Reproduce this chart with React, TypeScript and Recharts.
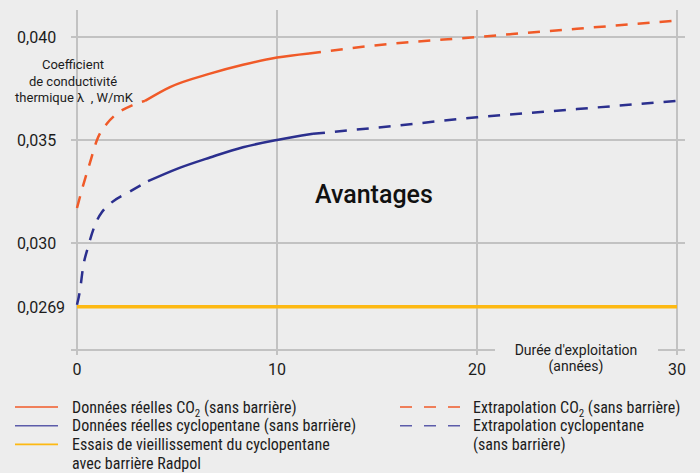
import React from 'react';
import { LineChart, Line, XAxis, YAxis, CartesianGrid, ReferenceLine } from 'recharts';

// ---- data ----
const years = [0, 10, 20, 30];
const yTicks = [0.0269, 0.03, 0.035, 0.04];
const yTickLabels = ['0,0269', '0,030', '0,035', '0,040'];
const gridValues = [0.03, 0.035, 0.04];

const co2EarlyT = [0, 0.25, 0.65, 1.0, 1.5, 1.9, 2.8, 3.4];
const co2EarlyV = [0.0317, 0.0326, 0.0339, 0.035, 0.0358, 0.0362, 0.0367, 0.0369];
const co2RealT = [3.4, 4.65, 6.65, 8.3, 10, 11.6];
const co2RealV = [0.0369, 0.03757, 0.03822, 0.03865, 0.039, 0.0392];
const co2LateT = [11.6, 15, 20, 25, 30];
const co2LateV = [0.0392, 0.0396, 0.04, 0.0404, 0.0408];

const cpEarlyT = [0, 0.15, 0.3, 0.55, 1.0, 1.25, 1.65, 2.65, 3.55];
const cpEarlyV = [0.027, 0.0277, 0.0288, 0.0298, 0.0311, 0.0315, 0.0319, 0.0325, 0.033];
const cpRealT = [3.55, 5.0, 6.65, 8.3, 10, 11.8];
const cpRealV = [0.033, 0.0336, 0.03415, 0.03465, 0.035, 0.0353];
const cpLateT = [11.8, 15, 20, 25, 30];
const cpLateV = [0.0353, 0.0356, 0.0361, 0.0365, 0.0369];

const radpolT = [0, 30];
const radpolV = [0.0269, 0.0269];

const legendLeft = [
  ['Données réelles CO₂ (sans barrière)'],
  ['Données réelles cyclopentane (sans barrière)'],
  ['Essais de vieillissement du cyclopentane', 'avec barrière Radpol'],
];
const legendRight = [
  ['Extrapolation CO₂ (sans barrière)'],
  ['Extrapolation cyclopentane', '(sans barrière)'],
];

// ---- config ----
const ORANGE = '#F05A28';
const BLUE = '#2B2F8E';
const YELLOW = '#FDB913';
const GRID = '#c2c2c2';
const BG = '#ededed';
const TEXT = '#1c1c1c';
const DASH = '12 10';

const X_DOMAIN: [number, number] = [-0.3, 30.4];
const Y_DOMAIN: [number, number] = [0.024563, 0.04131];
const AXIS_BASE = 0.024805;

const toPoints = (t: number[], v: number[]) => t.map((x, i) => ({ t: x, v: v[i] }));

const series = [
  { key: 'radpol', data: toPoints(radpolT, radpolV), color: YELLOW, dash: undefined, width: 3.5 },
  { key: 'co2Early', data: toPoints(co2EarlyT, co2EarlyV), color: ORANGE, dash: DASH, width: 2.5 },
  { key: 'co2Real', data: toPoints(co2RealT, co2RealV), color: ORANGE, dash: undefined, width: 2.5 },
  { key: 'co2Late', data: toPoints(co2LateT, co2LateV), color: ORANGE, dash: DASH, width: 2.5 },
  { key: 'cpEarly', data: toPoints(cpEarlyT, cpEarlyV), color: BLUE, dash: DASH, width: 2.5 },
  { key: 'cpReal', data: toPoints(cpRealT, cpRealV), color: BLUE, dash: undefined, width: 2.5 },
  { key: 'cpLate', data: toPoints(cpLateT, cpLateV), color: BLUE, dash: DASH, width: 2.5 },
];

const FONT = 'Roboto, "Noto Sans", sans-serif';
const NARROW = '"Liberation Sans Narrow", "Roboto Condensed", Roboto, sans-serif';

const YTick = (props: any) => {
  const { y, payload } = props;
  const idx = yTicks.indexOf(payload.value);
  return (
    <text x={17} y={y + 6} fontSize={16} fontFamily={FONT} fill={TEXT} textAnchor="start">
      {idx >= 0 ? yTickLabels[idx] : String(payload.value)}
    </text>
  );
};

const XTick = (props: any) => {
  const { x, y, payload } = props;
  return (
    <text x={x} y={y + 20} fontSize={16} fontFamily={FONT} fill={TEXT} textAnchor="middle">
      {payload.value}
    </text>
  );
};

const renderLabel = (s: string) => {
  const parts = s.split('₂');
  const out: any[] = [];
  parts.forEach((p, i) => {
    if (i > 0) {
      out.push(<tspan key={'s' + i} fontSize={11} dy={4}>2</tspan>);
      out.push(<tspan key={'p' + i} dy={-4}>{p}</tspan>);
    } else {
      out.push(<tspan key={'p' + i}>{p}</tspan>);
    }
  });
  return out;
};

const legendLeftColors = [ORANGE, '#5c5caa', YELLOW];
const legendRightColors = [ORANGE, '#5c5caa'];

export default function App() {
  const rowH = 18.7;
  const row0 = 407;
  let leftRows = 0;
  let rightRows = 0;
  return (
    <div style={{ position: 'fixed', left: 0, top: 0, width: 700, height: 473, background: BG, overflow: 'hidden' }}>
      <LineChart
        width={700}
        height={473}
        margin={{ top: 10, right: 15, bottom: 88, left: 0 }}
      >
        <CartesianGrid
          stroke={GRID}
          strokeWidth={2}
          verticalValues={years}
          horizontalValues={gridValues}
        />
        <XAxis
          type="number"
          dataKey="t"
          domain={X_DOMAIN}
          ticks={years}
          interval={0}
          allowDataOverflow
          axisLine={false}
          tickLine={false}
          tickSize={0}
          tickMargin={0}
          height={30}
          tick={<XTick />}
        />
        <YAxis
          type="number"
          dataKey="v"
          domain={Y_DOMAIN}
          ticks={yTicks}
          interval={0}
          allowDataOverflow
          axisLine={false}
          tickLine={false}
          width={71}
          tick={<YTick />}
        />
        <ReferenceLine
          segment={[{ x: X_DOMAIN[0], y: AXIS_BASE }, { x: 20.9, y: AXIS_BASE }]}
          stroke={GRID}
          strokeWidth={2}
          ifOverflow="visible"
        />
        <ReferenceLine
          segment={[{ x: 29.05, y: AXIS_BASE }, { x: X_DOMAIN[1], y: AXIS_BASE }]}
          stroke={GRID}
          strokeWidth={2}
          ifOverflow="visible"
        />
        {series.map((s) => (
          <Line
            key={s.key}
            data={s.data}
            dataKey="v"
            type="monotone"
            stroke={s.color}
            strokeWidth={s.width}
            strokeDasharray={s.dash}
            dot={false}
            activeDot={false}
            isAnimationActive={false}
          />
        ))}
      </LineChart>
      <svg
        width={700}
        height={473}
        style={{ position: 'absolute', left: 0, top: 0, pointerEvents: 'none' }}
      >
        <text fontSize={13} fontFamily={FONT} fill={TEXT} textAnchor="middle" style={{ whiteSpace: 'pre' }}>
          <tspan x={73} y={69}>Coefficient</tspan>
          <tspan x={73} y={86}>de conductivité</tspan>
          <tspan x={74} y={102}>{'thermique λ  , W/mK'}</tspan>
        </text>
        <text fontSize={14} fontFamily={FONT} fill={TEXT} textAnchor="middle">
          <tspan x={576} y={355}>Durée d'exploitation</tspan>
          <tspan x={576} y={371}>(années)</tspan>
        </text>
        <text x={315} y={203} fontSize={25} fontWeight={500} fontFamily={FONT} fill="#111">
          Avantages
        </text>
        {legendLeft.map((lines, i) => {
          const start = leftRows;
          leftRows += lines.length;
          const cy = row0 + start * rowH;
          return (
            <g key={'l' + i}>
              <line x1={15} x2={58} y1={cy} y2={cy} stroke={legendLeftColors[i]} strokeWidth={1.6} />
              {lines.map((ln, j) => (
                <text key={j} x={72} y={cy + (j * rowH) + 5.5} fontSize={16} fontFamily={NARROW} fill={TEXT}>
                  {renderLabel(ln)}
                </text>
              ))}
            </g>
          );
        })}
        {legendRight.map((lines, i) => {
          const start = rightRows;
          rightRows += lines.length;
          const cy = row0 + start * rowH;
          return (
            <g key={'r' + i}>
              <line x1={400} x2={460} y1={cy} y2={cy} stroke={legendRightColors[i]} strokeWidth={1.6} strokeDasharray="12 12" />
              {lines.map((ln, j) => (
                <text key={j} x={473} y={cy + (j * rowH) + 5.5} fontSize={16} fontFamily={NARROW} fill={TEXT}>
                  {renderLabel(ln)}
                </text>
              ))}
            </g>
          );
        })}
      </svg>
    </div>
  );
}
